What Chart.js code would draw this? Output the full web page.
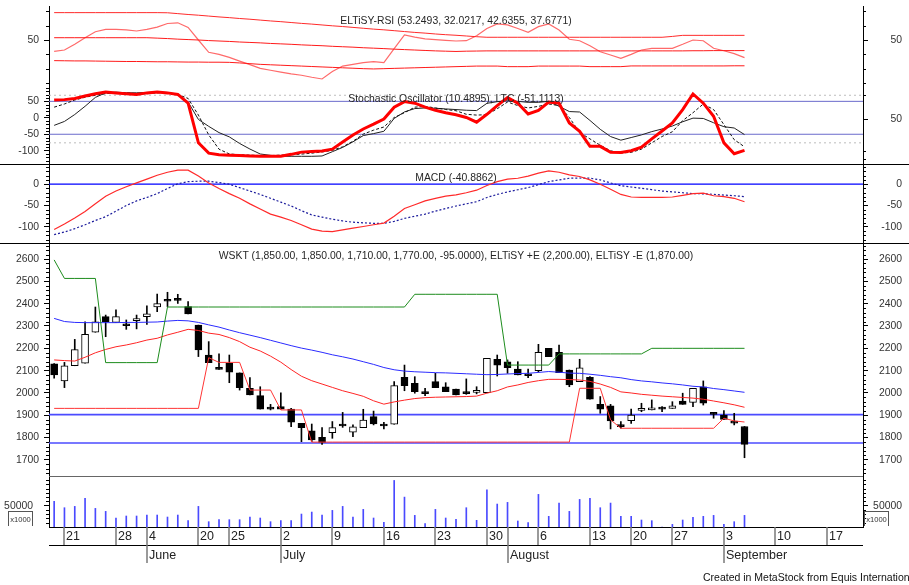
<!DOCTYPE html>
<html>
<head>
<meta charset="utf-8">
<title>WSKT</title>
<script src="https://cdn.jsdelivr.net/npm/chart.js@4.4.1/dist/chart.umd.min.js"></script>
<style>
  body { margin: 0; width: 909px; height: 585px; overflow: hidden; position: relative; background: #fff;
         font-family: "Liberation Sans", Arial, sans-serif; color: #222; }
  canvas { position: absolute; left: 0; }
  .ttl { position: absolute; left: 49px; width: 814px; text-align: center; font-size: 10.4px; line-height: 12px;
         white-space: nowrap; color: #262626; }
  .hl { position: absolute; height: 1px; background: #000; }
  .kb { position: absolute; width: 23px; height: 14px; border: 1px solid #555; border-bottom: none;
        font-size: 7.6px; line-height: 15px; text-align: center; color: #333; }
  #foot { position: absolute; left: 703px; top: 571px; font-size: 10.5px; line-height: 12px; white-space: nowrap; color: #111; }
</style>
</head>
<body>
<canvas id="rsi" width="909" height="88" style="top:0"></canvas>
<canvas id="sto" width="909" height="76" style="top:88px"></canvas>
<canvas id="macd" width="909" height="80" style="top:164px"></canvas>
<canvas id="price" width="909" height="233" style="top:244px"></canvas>
<canvas id="vol" width="909" height="108" style="top:477px"></canvas>

<div class="hl" style="top:164px;left:0;width:909px"></div>
<div class="hl" style="top:243px;left:0;width:909px"></div>
<div class="hl" style="top:476px;left:49px;width:814px;background:#666"></div>

<div class="ttl" style="top:15px">ELTiSY-RSI (53.2493, 32.0217, 42.6355, 37.6771)</div>
<div class="ttl" style="top:93px">Stochastic Oscillator (10.4895), LTC (-51.1113)</div>
<div class="ttl" style="top:172px">MACD (-40.8862)</div>
<div class="ttl" style="top:250px">WSKT (1,850.00, 1,850.00, 1,710.00, 1,770.00, -95.0000), ELTiSY +E (2,200.00), ELTiSY -E (1,870.00)</div>
<div class="kb" style="left:8px;top:511px">x1000</div>
<div class="kb" style="left:864px;top:511px">x1000</div>
<div id="foot">Created in MetaStock from Equis International</div>

<script>
// bar index of each date tick (one bar per trading day, 18 May .. 5 Sep)
const dayTicks = [1, 6, 9, 14, 17, 22, 27, 32, 37, 42, 44, 47, 52, 56, 60, 65, 70, 75];
const dayLabels = ["21", "28", "4", "20", "25", "2", "9", "16", "23", "30", "", "6", "13", "20", "27", "3", "10", "17"];
const monthTicks = [9, 22, 44, 65];
const monthLabels = ["June", "July", "August", "September"];

// WSKT prices
const open = [2130,2054,2122,2134,2272,2342,2316,2309,2324,2342, 2385,2413,2421,2387,2304,2170,2110,2133,2090,2021,
  1988,1930,1939,1928,1864,1831,1801,1822,1861,1824, 1845,1894,1855,1860,2070,2043,2000,2051,2028,2018,
  2000,2003,2001,2151,2140,2107,2080,2100,2200,2182, 2103,2051,2070,1949,1942,1852,1876,1922,1924,1930,
  1931,1964,1958,2028,1912,1901,1870,1850];
const high = [2132,2137,2240,2319,2385,2349,2372,2327,2349,2390, 2443,2451,2442,2409,2304,2230,2175,2170,2090,2069,
  2028,1949,2001,1931,1864,1861,1845,1872,1913,1857, 1927,1919,1869,2051,2125,2073,2021,2088,2046,2018,
  2063,2028,2155,2170,2148,2140,2107,2218,2200,2215, 2103,2151,2073,1984,1949,1872,1928,1954,1969,1939,
  1961,1999,2021,2054,1912,1921,1909,1850];
const low = [2066,2024,2122,2134,2272,2252,2316,2285,2287,2307, 2364,2387,2401,2354,2163,2136,2106,2046,2013,1991,
  1928,1924,1927,1849,1782,1782,1770,1797,1846,1804, 1845,1857,1839,1860,2010,1999,1988,2024,2006,1991,
  1994,1996,2001,2076,2088,2081,2069,2093,2163,2091, 2028,2051,1972,1909,1839,1842,1864,1916,1924,1916,
  1931,1949,1939,1946,1887,1882,1857,1710];
const close = [2081,2122,2194,2263,2319,2319,2342,2301,2324,2354, 2400,2411,2415,2354,2193,2136,2106,2093,2024,1991,
  1928,1928,1927,1869,1845,1790,1779,1845,1852,1848, 1879,1861,1852,2033,2033,2006,1997,2024,2006,1991,
  1997,2006,2155,2125,2113,2081,2077,2182,2163,2091, 2036,2113,1972,1928,1875,1849,1901,1927,1934,1928,
  1942,1949,2021,1954,1904,1882,1865,1770];
const volume = [60200,45300,48400,67200,43700,36700,21100,25800,25800,28100, 28100,23400,28100,14800,48400,12500,17200,17200,17200,23400,
  21100,12500,14800,14800,30400,35100,28100,39000,48400,23400, 41400,21100,10900,109300,70200,27300,7800,41400,21100,18000,
  45300,15600,87500,53900,57800,14100,10200,76600,25000,56200, 36700,64800,67200,45300,56200,25000,25000,16400,14800,0,
  6200,16400,22600,25000,27300,6200,12500,27300];

// price overlays
const upperE = [2596,2513,2513,2513,2513,2136,2136,2136,2136,2136, 2136,2385,2385,2385,2385,2385,2385,2385,2385,2385,
  2385,2385,2385,2385,2385,2385,2385,2385,2385,2385, 2385,2385,2385,2385,2385,2442,2442,2442,2442,2442,
  2442,2442,2442,2442,2125,2125,2125,2125,2125,2175, 2175,2175,2175,2175,2175,2175,2175,2175,2200,2200,
  2200,2200,2200,2200,2200,2200,2200,2200];
const lowerE = [1931,1931,1931,1931,1931,1931,1931,1931,1931,1931, 1931,1931,1931,1931,1931,2158,2137,2137,2137,2013,
  2013,2013,1924,1924,1924,1780,1780,1780,1780,1780, 1780,1780,1780,1780,1780,1780,1780,1780,1780,1780,
  1780,1780,1780,1780,1780,1780,1780,1780,1780,1780, 1780,2021,2021,2021,1880,1842,1842,1842,1842,1842,
  1842,1842,1842,1842,1842,1887,1875,1870];
const maLong = [2334,2320,2316,2315,2315,2315,2315,2316,2316,2317, 2318,2322,2325,2323,2316,2305,2295,2282,2270,2259,
  2248,2236,2224,2212,2201,2192,2182,2171,2162,2152, 2140,2128,2114,2104,2098,2095,2093,2091,2090,2088,
  2086,2084,2082,2083,2085,2087,2088,2092,2096,2093, 2089,2088,2084,2079,2073,2068,2060,2054,2050,2045,
  2041,2036,2030,2027,2020,2015,2009,2003];
const maShort = [2148,2145,2143,2160,2180,2195,2207,2215,2225,2237, 2245,2260,2272,2285,2280,2268,2262,2248,2230,2205,
  2188,2165,2138,2105,2075,2055,2040,2025,2010,1998, 1985,1965,1950,1960,1968,1975,1979,1981,1982,1983,
  1984,1986,1999,2010,2027,2036,2047,2055,2061,2061, 2060,2058,2052,2040,2025,2005,2000,1994,1990,1986,
  1983,1980,1977,1972,1964,1956,1947,1936];
const priceLevels = [1903, 1776];

// ELTiSY-RSI and its three bands
const rsi = [42,43,47,51.5,55.8,57.4,57.4,57,56.3,57.4, 59,61.5,62,58.8,50,41.4,40,37.9,35.3,32.8,
  30.2,28.9,27.6,26.3,25.4,24,22.8,28,31.8,33, 34.2,34.9,34.2,44,53.5,52,50.8,50.3,49.8,49.3,
  49.5,53,58,61.2,60.5,58,55.4,59.3,61.2,57, 50.5,49.5,46,41.8,39.5,37.2,40,43,44.2,44.2,
  44.2,47,50,49.5,44.2,42.5,40.5,37.7];
const rsiHigh = [69.1,69.1,69.1,69.1,69.1,69.1,69.1,69.1,69.1,69.1, 69.1,69.0,68.4,67.8,67.3,66.7,66.1,65.6,65.0,64.5,
  63.9,63.3,62.8,62.2,61.6,61.1,60.5,59.9,59.4,58.8, 58.2,57.6,57.1,56.5,55.9,55.3,54.8,54.2,53.7,53.3,
  52.8,52.3,51.9,51.9,51.9,51.9,51.9,51.9,51.9,51.9, 51.9,51.9,51.9,51.9,51.9,51.9,51.9,51.9,51.9,51.9,
  52.5,53.25,53.25,53.25,53.25,53.25,53.25,53.25];
const rsiMid = [51.6,51.6,51.6,51.6,51.6,51.6,51.6,51.6,51.6,51.6, 51.3,51.0,50.6,50.3,50.0,49.6,49.3,49.0,48.6,48.3,
  48.0,47.6,47.3,47.0,46.6,46.3,46.0,45.6,45.3,45.0, 44.6,44.3,44.0,43.6,43.3,43.0,42.7,42.4,42.2,42.0,
  42.2,42.3,42.4,42.4,42.4,42.4,42.4,42.4,42.4,42.4, 42.4,42.4,42.4,42.4,42.4,42.4,42.4,42.4,42.4,42.4,
  42.4,42.4,42.5,42.5,42.6,42.6,42.6,42.6];
const rsiLow = [35.6,35.5,35.4,35.4,35.3,35.2,35.1,35.0,35.0,34.9, 34.8,34.8,34.7,34.6,34.6,34.5,34.5,34.4,34.0,33.5,
  33.0,32.7,32.4,32.1,31.8,31.5,31.2,30.9,30.6,30.3, 30.0,29.8,30.0,30.2,30.4,30.6,30.8,31.0,31.2,31.4,
  31.6,31.8,31.8,31.8,31.4,31.4,31.4,31.8,31.8,31.8, 31.8,31.8,31.4,31.4,31.4,31.4,31.9,31.9,31.9,31.9,
  31.9,31.9,31.9,31.9,31.9,31.9,32.0,32.0];

// stochastic %K, %D (right scale) and LTC (left scale)
const stochK = [74,74.5,76,79,82,84,83,82,81,83, 84,83,81,70,20,7,5,4.5,4,3.5,
  3,3,3,5.5,8.3,9,9.8,12,21,30, 37.5,43.5,50,65,72,70,65,61,58,55.5,
  52,46,56,67,77,70,56.4,61,71.5,70, 45,34.5,15.6,15.6,8,7.8,10,14.5,25,35,
  45,62,81.6,70,53.5,20,6.3,10.5];
const stochD = [65,69,74,77.5,80,82,83,83,82,82, 83,83.5,81,76,55,30,12,6,5,4.5,
  4,4,4.5,5,5.8,7,8.5,10.5,15,22, 31,36,40,52,58,65,66,64,62,60.5,
  56,55,55.5,63,71.5,67,64,66,69,67, 52,33,25,17,10,7.2,8,12,20,28,
  34,48,58,69,62,43,24,15];
const ltc = [-23,-11,10,35,62,76,78,76,76,77, 78,77,70,48,-5,-26,-45,-58,-78,-95,
  -110,-114,-117,-117,-117,-117,-116,-103,-90,-73, -54,-48,-41,-2,18,28,30,29,27,25,
  23,22,44,49,52,50,47,47,50,35, 19,17.6,-8,-35,-57,-68,-60,-52,-42,-34,
  -25,-12,-1,-2,-15,-27,-31,-51];
const stochBlue = [50, -50];
const stochDots = [80, 20];

// MACD and signal
const macd = [-106,-93,-79,-64,-46,-28,-16,-6,3,12, 21,28,33,33,19,3,-10,-22,-33,-46,
  -58,-70,-77,-85,-95,-105,-110,-111,-107,-103, -99,-95,-91,-75,-57,-48,-39,-33,-28,-25,
  -20,-14,-3,6,12,14,19,26,31,28, 22,18,10,0,-12,-24,-30,-31,-31,-31,
  -30,-26,-22,-21,-27,-29,-33,-41];
const signal = [-118,-112,-104,-95,-85,-76,-63,-50,-39,-31, -22,-10,1,6,7,7,4,0,-8,-16,
  -24,-33,-42,-51,-62,-72,-77,-82,-86,-89, -90.5,-91.5,-91.6,-87,-80,-75,-70,-63,-57,-51,
  -46,-41,-31,-24,-18,-13,-8,-1,6,10, 14,14.5,14,10,3,-3.5,-6.5,-9.6,-12.8,-16,
  -18,-20,-22,-22.5,-23.7,-25.5,-27,-29];

const FONT = '"Liberation Sans", Arial, sans-serif';
const xMin = -0.5, xMax = 78.5;

const pts = arr => arr.map((v, i) => ({ x: i, y: v }));
const level = v => [{ x: xMin, y: v }, { x: xMax, y: v }];
function steps(from, to, step, skip) {
  const out = [];
  for (let v = from; v <= to; v += step) if (!skip.includes(v)) out.push(v);
  return out;
}

function line(arr, color, width, axis, dash) {
  return { type: "line", data: pts(arr), borderColor: color, borderWidth: width, yAxisID: axis || "y",
    pointRadius: 0, borderDash: dash || [], order: 0 };
}
function flat(v, color, width, axis, dash) {
  return { type: "line", data: level(v), borderColor: color, borderWidth: width, yAxisID: axis || "y",
    pointRadius: 0, borderDash: dash || [], order: 3 };
}

function yAxis(pos, min, max, majors, pad) {
  return {
    type: "linear", position: pos, min: min, max: max,
    afterBuildTicks: s => { s.ticks = majors.map(v => ({ value: v })); },
    afterFit: s => { s.width = pos === "left" ? 49 : 39; s.paddingTop = 0; s.paddingBottom = 0; },
    grid: { drawOnChartArea: false, tickLength: 5, tickColor: "#000" },
    border: { color: "#000", width: 1 },
    ticks: { padding: pad || 5, crossAlign: pos === "left" ? "near" : "far", color: "#333", autoSkip: false,
      font: { size: 10.4, family: FONT }, callback: v => String(v) }
  };
}

const minorTicks = {
  id: "minorTicks",
  afterDraw(chart, args, opts) {
    const ctx = chart.ctx;
    ctx.save();
    ctx.strokeStyle = "#000";
    ctx.lineWidth = 1;
    ctx.beginPath();
    (opts.list || []).forEach(m => {
      const s = chart.scales[m.id];
      m.values.forEach(v => {
        const y = Math.round(s.getPixelForValue(v)) + 0.5;
        if (s.position === "left") { ctx.moveTo(s.right - 3, y); ctx.lineTo(s.right, y); }
        else { ctx.moveTo(s.left, y); ctx.lineTo(s.left + 3, y); }
      });
    });
    ctx.stroke();
    ctx.restore();
  }
};

const dateAxis = {
  id: "dateAxis",
  afterDraw(chart) {
    const { ctx, chartArea: a, scales: { x } } = chart;
    const y0 = a.bottom, y1 = y0 + 18, y2 = y1 + 18;
    ctx.save();
    ctx.strokeStyle = "#000";
    ctx.lineWidth = 1;
    ctx.beginPath();
    ctx.moveTo(a.left, y0 + 0.5); ctx.lineTo(a.right, y0 + 0.5);
    ctx.moveTo(a.left, y1 + 0.5); ctx.lineTo(a.right, y1 + 0.5);
    ctx.stroke();
    ctx.strokeStyle = "#7a7a7a";
    ctx.lineWidth = 1.5;
    ctx.beginPath();
    dayTicks.forEach(i => { const px = Math.round(x.getPixelForValue(i)); ctx.moveTo(px, y0); ctx.lineTo(px, y1); });
    monthTicks.forEach(i => { const px = Math.round(x.getPixelForValue(i)); ctx.moveTo(px, y1); ctx.lineTo(px, y2); });
    ctx.stroke();
    ctx.fillStyle = "#222";
    ctx.font = '12.5px "Liberation Sans Narrow", "Liberation Sans", sans-serif';
    ctx.textBaseline = "middle";
    ctx.textAlign = "left";
    dayTicks.forEach((i, k) => ctx.fillText(dayLabels[k], Math.round(x.getPixelForValue(i)) + 2, y0 + 9.5));
    monthTicks.forEach((i, k) => ctx.fillText(monthLabels[k], Math.round(x.getPixelForValue(i)) + 2, y1 + 10.5));
    ctx.restore();
  }
};

function makeChart(id, type, datasets, scales, minor, padTop, padBottom, extra) {
  return new Chart(document.getElementById(id), {
    type: type,
    data: { datasets: datasets },
    options: {
      responsive: false, animation: false, devicePixelRatio: 1, events: [],
      layout: { padding: { left: 0, right: 7, top: padTop || 0, bottom: padBottom || 0 } },
      plugins: { legend: { display: false }, tooltip: { enabled: false }, minorTicks: { list: minor } },
      elements: { line: { tension: 0 } },
      scales: Object.assign({ x: { type: "linear", min: xMin, max: xMax, display: false, offset: false } }, scales)
    },
    plugins: [minorTicks].concat(extra || [])
  });
}

// RSI panel
const rsiMinor = [20, 30, 40, 60, 70];
makeChart("rsi", "line", [
  line(rsiHigh, "#ff2a2a", 1),
  line(rsiMid, "#ff1a1a", 1),
  line(rsiLow, "#ff1a1a", 1),
  line(rsi, "#ff6a6a", 1.2)
], {
  y: yAxis("left", 16.5, 73.73, [50]),
  yr: yAxis("right", 16.5, 73.73, [50])
}, [{ id: "y", values: rsiMinor }, { id: "yr", values: rsiMinor }], 6);

// Stochastic panel
makeChart("sto", "line", [
  line(stochK, "#ff0000", 3, "yr"),
  line(stochD, "#111", 1, "yr", [3, 2]),
  line(ltc, "#222", 1, "y"),
  flat(stochBlue[0], "#6b6bcc", 1, "y"),
  flat(stochBlue[1], "#6b6bcc", 1, "y"),
  flat(stochDots[0], "#bdbdbd", 1, "yr", [2, 3]),
  flat(stochDots[1], "#bdbdbd", 1, "yr", [2, 3])
], {
  y: yAxis("left", -140.4, 90.58, [50, 0, -50, -100]),
  yr: yAxis("right", -6.68, 89.16, [50])
}, [{ id: "y", values: steps(-140, 90, 10, [50, 0, -50, -100]) }, { id: "yr", values: [80, 10, 0] }]);

// MACD panel
const macdMinor = steps(-130, 40, 10, [0, -50, -100]);
makeChart("macd", "line", [
  line(macd, "#ff2a2a", 1.2),
  line(signal, "#1c1c9c", 1.2, "y", [2, 2]),
  flat(0, "#0000ff", 1.3)
], {
  y: yAxis("left", -140, 47.3, [0, -50, -100]),
  yr: yAxis("right", -140, 47.3, [0, -50, -100])
}, [{ id: "y", values: macdMinor }, { id: "yr", values: macdMinor }]);

// Price panel
const priceMajor = [2600, 2500, 2400, 2300, 2200, 2100, 2000, 1900, 1800, 1700];
const priceMinor = steps(1640, 2660, 20, priceMajor);
makeChart("price", "bar", [
  line(upperE, "#1d8c1d", 1),
  line(maLong, "#2b2bff", 1),
  line(maShort, "#ff2525", 1),
  line(lowerE, "#ff3535", 1),
  flat(priceLevels[0], "#4b4bff", 1.6),
  flat(priceLevels[1], "#4b4bff", 1.6),
  { type: "bar", data: open.map((o, i) => ({ x: i, y: [o, close[i]] })),
    backgroundColor: open.map((o, i) => close[i] >= o ? "#fff" : "#000"),
    borderColor: "#000", borderWidth: 1, borderSkipped: false, barThickness: 7, minBarLength: 2,
    grouped: false, order: 1 },
  { type: "bar", data: low.map((l, i) => ({ x: i, y: [l, high[i]] })),
    backgroundColor: "#000", borderWidth: 0, barThickness: 1, grouped: false, order: 2 }
], {
  y: yAxis("left", 1623.7, 2667.2, priceMajor),
  yr: yAxis("right", 1623.7, 2667.2, priceMajor)
}, [{ id: "y", values: priceMinor }, { id: "yr", values: priceMinor }]);

// Volume panel with the date axis below it
const volMinor = steps(10000, 110000, 10000, [50000]);
makeChart("vol", "bar", [
  { type: "bar", data: pts(volume), backgroundColor: "#4a4aff", barThickness: 1, grouped: false }
], {
  y: yAxis("left", 0, 117400, [50000], 11),
  yr: yAxis("right", 0, 117400, [50000])
}, [{ id: "y", values: volMinor }, { id: "yr", values: volMinor }], 0, 58, [dateAxis]);
</script>
</body>
</html>
